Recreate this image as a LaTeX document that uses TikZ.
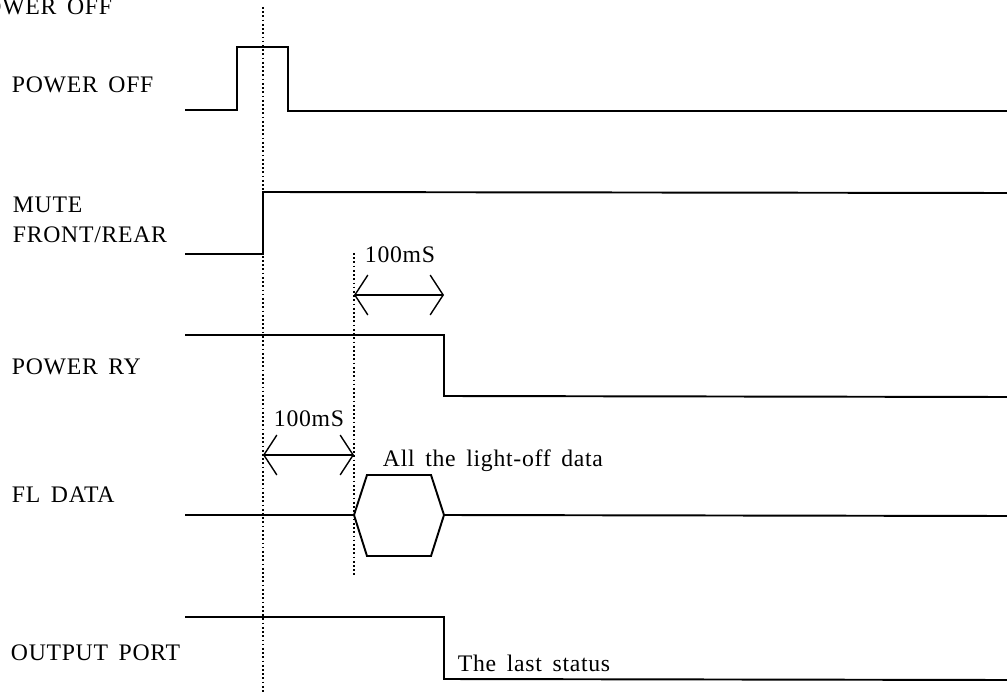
\documentclass[tikz,border=0pt]{standalone}
\usepackage{fontspec}
\setmainfont{Liberation Serif}[LetterSpace=3,WordSpace=1.6]
\usetikzlibrary{arrows.meta}

\begin{document}
\begin{tikzpicture}[x=0.02cm,y=-0.02cm,line width=1.1pt,
  every node/.style={font=\fontsize{13.5}{15}\selectfont,inner sep=0pt},
  tline/.style={line width=1pt,dash pattern=on 1pt off 1.4pt},
  span/.style={line width=0.8pt,{Straight Barb[length=7.4pt,width=22.7pt]}-{Straight Barb[length=7.4pt,width=22.7pt]}}]

\useasboundingbox (0,0) rectangle (1007,692);

% signal names
\node[anchor=base east] (title) at (113,15) {POWER OFF};
\node[anchor=base west] (poff) at (11,93) {POWER OFF};
\node[anchor=base west] (mute) at (12,213) {MUTE};
\node[anchor=base west] (fr) at (12,243) {FRONT/REAR};
\node[anchor=base west] (pry) at (11,375) {POWER RY};
\node[anchor=base west] (fl) at (11,502) {FL DATA};
\node[anchor=base west] (out) at (10,660) {OUTPUT PORT};

% time marks
\coordinate (t0a) at (263,7);
\coordinate (t0b) at (263,692);
\coordinate (t1a) at (354,253);
\coordinate (t1b) at (354,575);
\draw[tline] (t0a) -- (t0b);
\draw[tline] (t1a) -- (t1b);

% waveforms
\draw (185,110) -- (237,110) |- (288,47) |- (1007,111);
\draw (185,254) -| (263,192) -- (1007,193);
\draw (185,335) -| (444,396) -- (1007,397);
\draw (185,515) -- (354,515);
\draw (354,515) -- (367,475) -- (431,475) -- (444,515) -- (431,556) -- (367,556) -- cycle;
\draw (444,515) -- (1007,516);
\draw (185,617) -| (444,679) -- (1007,680);

% delays
\coordinate (d1a) at (354,295);
\coordinate (d1b) at (444,295);
\draw[span] (d1a) -- (d1b);
\node[anchor=base] (d1) at (400,263) {100mS};
\coordinate (d2a) at (263,455);
\coordinate (d2b) at (354,455);
\draw[span] (d2a) -- (d2b);
\node[anchor=base] (d2) at (309,426) {100mS};

\node[anchor=base west] (data) at (382,466) {All the light-off data};
\node[anchor=base west] (last) at (457,671) {The last status};

\end{tikzpicture}
\end{document}
